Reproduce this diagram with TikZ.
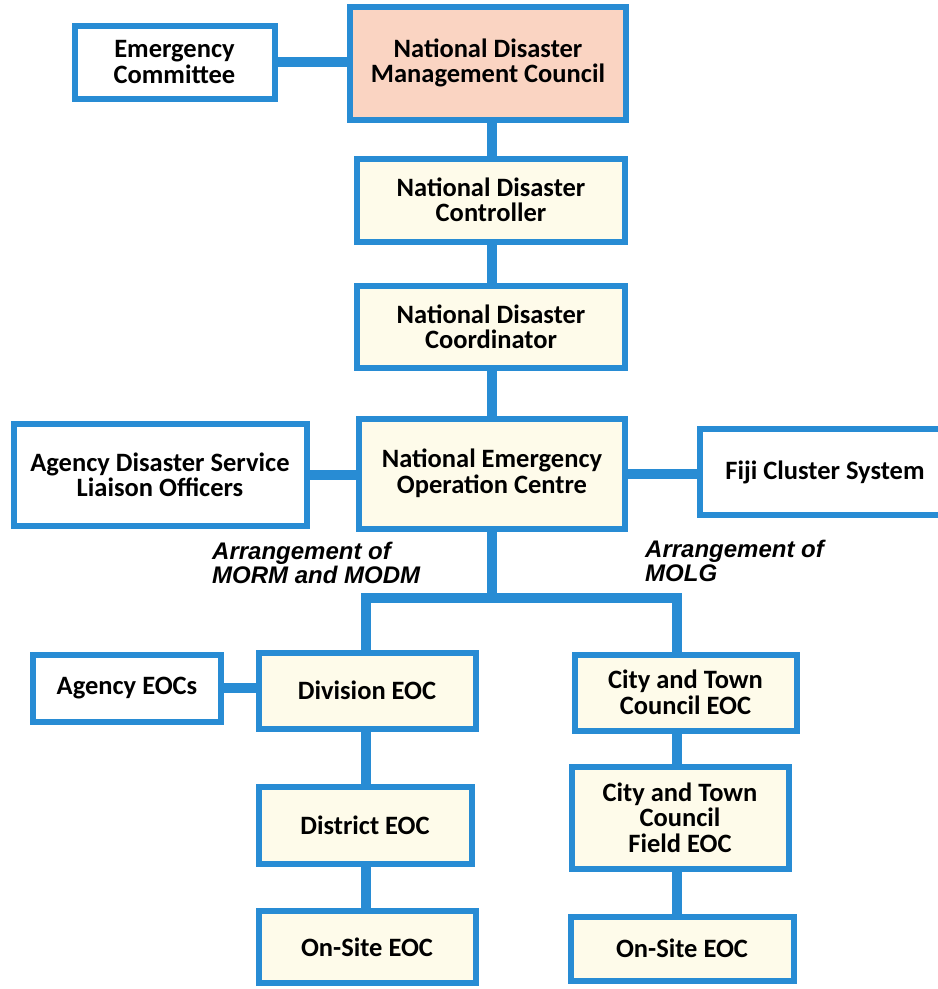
\documentclass[tikz,border=0pt]{standalone}
\usepackage{fontspec}
\setmainfont{Carlito}
\newfontfamily\labfont{Liberation Sans}
\usetikzlibrary{backgrounds}
\definecolor{bblue}{RGB}{40,140,212}
\definecolor{cream}{RGB}{254,251,234}
\definecolor{salmon}{RGB}{250,212,194}
\begin{document}
\begin{tikzpicture}[x=1pt,y=-1pt,
  box/.style={draw=bblue,line width=6pt,fill=cream,align=center,inner sep=0pt,
    font=\fontsize{26.5}{25.5}\selectfont\bfseries,text=black},
  wbox/.style={box,fill=white},
  conn/.style={draw=bblue,line width=10pt},
  lab/.style={font=\labfont\fontsize{24}{24}\selectfont\bfseries\itshape,align=left,anchor=north west,inner sep=0pt}]
\useasboundingbox (0,0) rectangle (938,989);
\begin{scope}
\clip (0,0) rectangle (938,989);
\node[wbox,minimum width=200,minimum height=73] (ec) at (174.5,62) {Emergency\\Committee};
\node[box,fill=salmon,minimum width=276,minimum height=113] (ndmc) at (488,63) {National Disaster\\Management Council};
\node[box,minimum width=268,minimum height=83] (ndc) at (491,200) {National Disaster\\Controller};
\node[box,minimum width=268,minimum height=82] (ndco) at (491,327) {National Disaster\\Coordinator};
\node[box,minimum width=266,minimum height=110] (neoc) at (492,473.5) {National Emergency\\Operation Centre};
\node[wbox,minimum width=293,minimum height=102] (adslo) at (160,475) {Agency Disaster Service\\Liaison Officers};
\node[wbox,minimum width=250,minimum height=86] (fcs) at (825,472) {Fiji Cluster System};
\node[box,minimum width=217,minimum height=76] (div) at (367,690.5) {Division EOC};
\node[wbox,minimum width=188,minimum height=67] (aeoc) at (127,688) {Agency EOCs};
\node[box,minimum width=213,minimum height=77] (dist) at (365,825) {District EOC};
\node[box,minimum width=217,minimum height=72] (os1) at (367,947) {On-Site EOC};
\node[box,minimum width=222,minimum height=76] (cty) at (685.5,692.5) {City and Town\\Council EOC};
\node[box,minimum width=217,minimum height=102] (fld) at (680,817.5) {City and Town\\Council\\Field EOC};
\node[box,minimum width=223,minimum height=64] (os2) at (682,948.5) {On-Site EOC};
\node[lab] (l1) at (212,542) {Arrangement of\\MORM and MODM};
\node[lab] (l2) at (645,540) {Arrangement of\\MOLG};
\coordinate (spine) at (492,0);
\coordinate (split) at (492,598);
\coordinate (lsplit) at (366,598);
\coordinate (rsplit) at (677,598);
\coordinate (lcol) at (366,0);
\coordinate (rcol) at (677,0);
\begin{scope}[on background layer]
\draw[conn] (ec) -- (ec -| ndmc.west);
\draw[conn] (ndmc.south -| spine) -- (ndc.north -| spine);
\draw[conn] (ndc.south -| spine) -- (ndco.north -| spine);
\draw[conn] (ndco.south -| spine) -- (neoc.north -| spine);
\draw[conn] (neoc.south -| spine) -- (split);
\draw[conn] (adslo) -- (adslo -| neoc.west);
\draw[conn] (neoc) -- (neoc -| fcs.west);
\draw[conn,line cap=rect] (lsplit) -- (rsplit);
\draw[conn] (lsplit) -- (lsplit |- div.north);
\draw[conn] (rsplit) -- (rsplit |- cty.north);
\draw[conn] (aeoc) -- (aeoc -| div.west);
\draw[conn] (div.south -| lcol) -- (dist.north -| lcol);
\draw[conn] (dist.south -| lcol) -- (os1.north -| lcol);
\draw[conn] (cty.south -| rcol) -- (fld.north -| rcol);
\draw[conn] (fld.south -| rcol) -- (os2.north -| rcol);
\end{scope}
\end{scope}
\end{tikzpicture}
\end{document}
